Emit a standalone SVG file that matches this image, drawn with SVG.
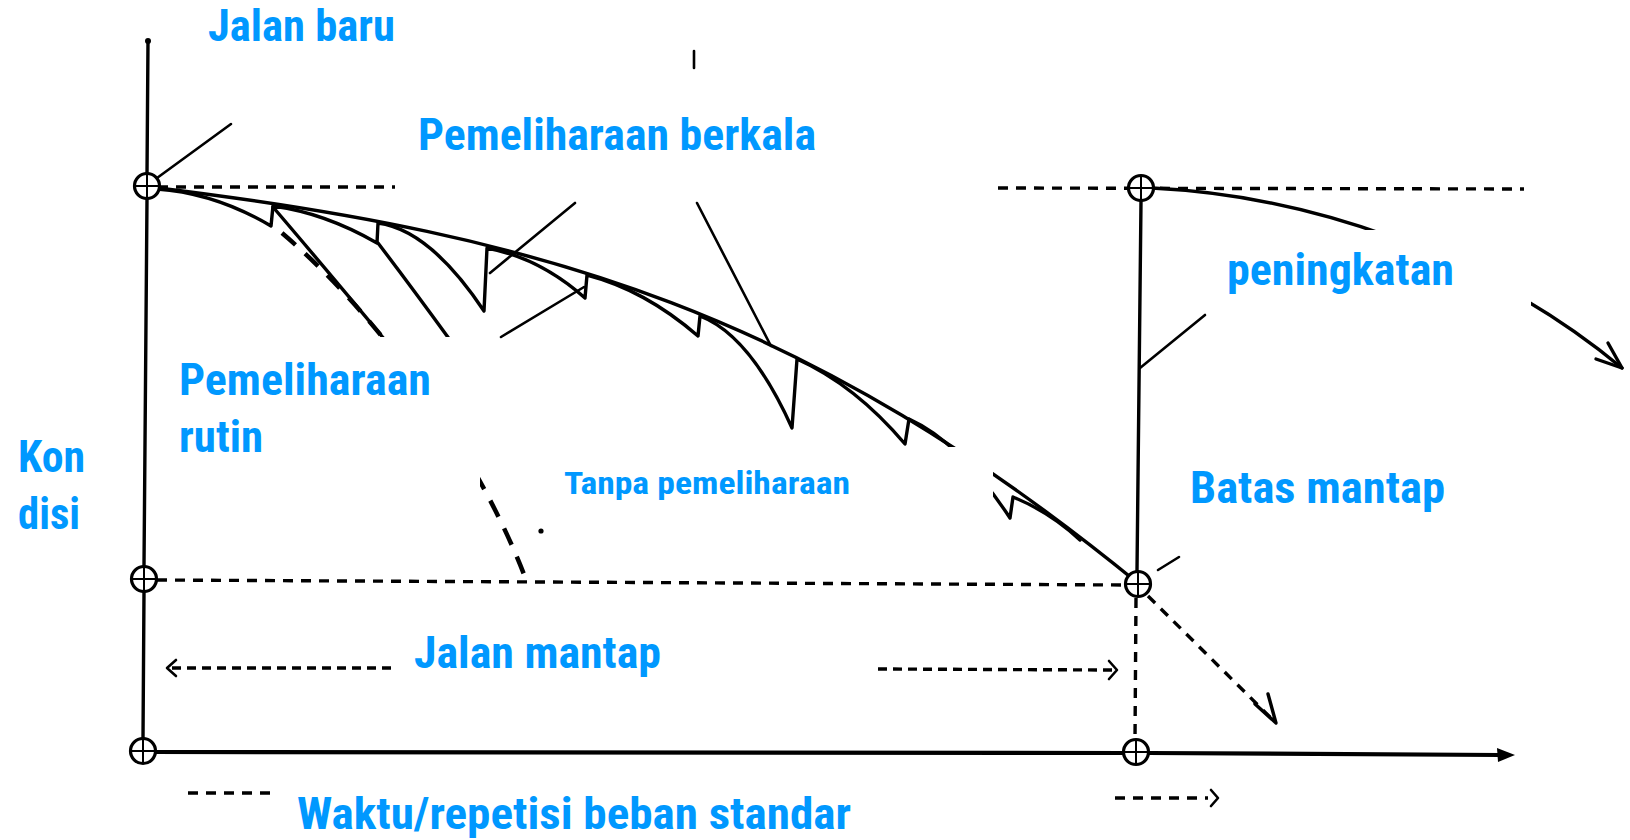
<svg xmlns="http://www.w3.org/2000/svg" width="1630" height="840" viewBox="0 0 1630 840">
  <style>
    .s{stroke:#000;fill:none;stroke-width:3.4;stroke-linecap:round;stroke-linejoin:round}
    .thin{stroke:#000;fill:none;stroke-width:2.6;stroke-linecap:round;stroke-linejoin:round}
    .d{stroke:#000;fill:none;stroke-width:3.4;stroke-dasharray:10 8}
    .dd{stroke:#000;fill:none;stroke-width:4.5;stroke-dasharray:18 13}
    .c{stroke:#000;fill:#fff;stroke-width:3.2}
    .x{stroke:#000;stroke-width:2}
    .mask{fill:#fff;stroke:none}
    .t{font-family:'Roboto Condensed','Liberation Sans Narrow',Roboto,'Liberation Sans',sans-serif;font-weight:700;font-size:44px;fill:#0098FF}
  </style>
  <defs>
    <g id="oplus">
      <circle class="c" cx="0" cy="0" r="12.5"/>
      <line class="x" x1="-11" y1="0" x2="11" y2="0"/>
      <line class="x" x1="0" y1="-11" x2="0" y2="11"/>
    </g>
  </defs>
  <rect width="1630" height="840" fill="#fff"/>

  <g id="axes">
    <circle cx="148" cy="41" r="3" fill="#000"/>
    <line class="s" x1="148" y1="41" x2="147" y2="174"/>
    <line class="s" x1="147" y1="199" x2="144" y2="566"/>
    <line class="s" x1="144" y1="592" x2="143" y2="738"/>
    <line class="s" style="stroke-width:4.2" x1="154" y1="752" x2="1123" y2="753"/>
    <line class="s" style="stroke-width:4.2" x1="1149" y1="753" x2="1500" y2="755"/>
    <path d="M1515,755 L1497,748 L1498,762 Z" fill="#000"/>
    <line class="d" x1="158" y1="187" x2="1000" y2="187"/>
    <line class="d" x1="998" y1="188" x2="1524" y2="189"/>
    <line class="d" x1="157" y1="580" x2="1126" y2="585"/>
    <line class="s" x1="1141" y1="201" x2="1137" y2="571"/>
    <line class="d" x1="1136" y1="598" x2="1135" y2="740"/>
  </g>

  <g id="curves">
    <path class="s" d="M150,187 C550,235 810,315 1139,584"/>
    <path class="s" d="M157,189 Q215,193 271,226 L273,206 Q325,213 377,243 L378,223 Q430,230 484,311 L487,248 Q540,258 585,298 L587,275 Q645,290 698,336 L700,316 Q750,335 792,428 L797,359 Q855,385 905,444 L909,419 Q960,442 1010,518 L1013,497 Q1050,512 1080,540"/>
    <path class="s" d="M273,207 Q320,262 385,340"/>
    <path class="s" d="M378,243 Q410,285 450,340"/>
    <path class="dd" d="M282,233 C380.7,316.9 477.9,454.5 525,577"/>
    <circle cx="541" cy="531" r="2.6" fill="#000"/>
    <path class="s" d="M1152,188 C1300,195 1480,250 1622,368"/>
    <path class="s" d="M1596,359 L1622,368 L1608,343"/>
    <line class="d" x1="1148" y1="596" x2="1272" y2="719"/>
    <path class="s" d="M1255,704 L1276,723 L1268,694"/>
  </g>

  <g id="masks">
    <rect class="mask" x="160" y="0" width="528" height="124"/>
    <rect class="mask" x="395" y="95" width="603" height="108"/>
    <rect class="mask" x="160" y="337" width="320" height="235"/>
    <rect class="mask" x="480" y="337" width="40" height="110"/>
    <rect class="mask" x="545" y="447" width="448" height="125"/>
    <rect class="mask" x="1205" y="230" width="326" height="230"/>
    <rect class="mask" x="1180" y="455" width="450" height="102"/>
  </g>

  <g id="connectors">
    <line class="thin" x1="157" y1="178" x2="231" y2="124"/>
    <line class="thin" x1="575" y1="203" x2="490" y2="273"/>
    <line class="thin" x1="697" y1="203" x2="771" y2="346"/>
    <line class="thin" x1="501" y1="337" x2="584" y2="287"/>
    <line class="thin" x1="1140" y1="368" x2="1205" y2="315"/>
    <line class="thin" x1="1158" y1="570" x2="1179" y2="557"/>
    <line class="thin" x1="694" y1="51" x2="694" y2="68"/>
    <path class="d" style="stroke-dasharray:9 6" d="M172,668 L392,668"/>
    <path class="thin" d="M176,660 L167,668 L176,676"/>
    <path class="d" style="stroke-dasharray:9 6" d="M878,669 L1112,670"/>
    <path class="thin" d="M1109,661 L1117,670 L1109,679"/>
    <line class="d" x1="188" y1="793" x2="276" y2="793"/>
    <line class="d" x1="1115" y1="798" x2="1208" y2="798"/>
    <path class="thin" d="M1211,790 L1218,798 L1211,806"/>
  </g>

  <g id="nodes">
    <use href="#oplus" x="147" y="186"/>
    <use href="#oplus" x="144" y="579"/>
    <use href="#oplus" x="143" y="751"/>
    <use href="#oplus" x="1141" y="188"/>
    <use href="#oplus" x="1138" y="584"/>
    <use href="#oplus" x="1136" y="752"/>
  </g>

  <g id="labels">
    <g id="lbl-jalan-baru"><text class="t" x="208" y="41" textLength="187" lengthAdjust="spacingAndGlyphs">Jalan baru</text></g>
    <g id="lbl-berkala"><text class="t" x="418" y="150" textLength="398" lengthAdjust="spacingAndGlyphs">Pemeliharaan berkala</text></g>
    <g id="lbl-peningkatan"><text class="t" x="1227" y="285" textLength="227" lengthAdjust="spacingAndGlyphs">peningkatan</text></g>
    <g id="lbl-rutin"><text class="t" x="179" y="395" textLength="252" lengthAdjust="spacingAndGlyphs">Pemeliharaan</text><text class="t" x="179" y="452" textLength="84" lengthAdjust="spacingAndGlyphs">rutin</text></g>
    <g id="lbl-kondisi"><text class="t" x="18" y="472" textLength="67" lengthAdjust="spacingAndGlyphs">Kon</text><text class="t" x="18" y="529" textLength="62" lengthAdjust="spacingAndGlyphs">disi</text></g>
    <g id="lbl-tanpa"><text class="t" style="font-size:32px" x="564" y="494" textLength="286" lengthAdjust="spacingAndGlyphs">Tanpa pemeliharaan</text></g>
    <g id="lbl-batas"><text class="t" x="1190" y="503" textLength="255" lengthAdjust="spacingAndGlyphs">Batas mantap</text></g>
    <g id="lbl-jalan-mantap"><text class="t" x="414" y="668" textLength="247" lengthAdjust="spacingAndGlyphs">Jalan mantap</text></g>
    <g id="lbl-waktu"><text class="t" x="297" y="829" textLength="554" lengthAdjust="spacingAndGlyphs">Waktu/repetisi beban standar</text></g>
  </g>
</svg>
